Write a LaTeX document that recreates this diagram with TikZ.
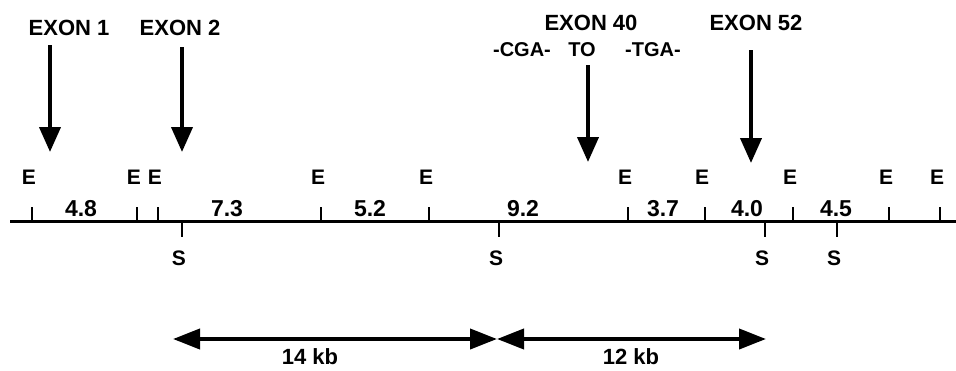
\documentclass[tikz,border=0pt]{standalone}
\usepackage{fontspec}
\setmainfont{Liberation Sans}
\usetikzlibrary{arrows.meta}
\begin{document}
\begin{tikzpicture}[x=1pt,y=-1pt,
  exonlbl/.style={font=\fontsize{22}{22}\selectfont\bfseries, inner sep=0pt},
  seqlbl/.style={font=\fontsize{20}{20}\selectfont\bfseries, inner sep=0pt},
  sitelbl/.style={font=\fontsize{21}{21}\selectfont\bfseries, inner sep=0pt},
  sizelbl/.style={font=\fontsize{23}{23}\selectfont\bfseries, inner sep=0pt},
  kblbl/.style={font=\fontsize{22}{22}\selectfont\bfseries, inner sep=0pt},
  exarrow/.style={line width=4pt, -{Triangle[width=21pt,length=25pt]}},
  spanarrow/.style={line width=4pt, {Triangle[width=20pt,length=27pt]}-{Triangle[width=20pt,length=27pt]}},
  tick/.style={line width=1.8pt},
]
\useasboundingbox (0,0) rectangle (956,370);

% restriction map baseline
\coordinate (mapL) at (10,221);
\coordinate (mapR) at (956,221);
\draw[line width=3pt] (mapL) -- (mapR);

% EcoRI sites (ticks above the line)
\foreach \x [count=\i] in {32,137,158,321,429,628,705,793,889,940}{
  \coordinate (e\i) at (\x,221);
  \draw[tick] (e\i) -- ++(0,-14);
  \node[sitelbl] (E\i) at (\x-3,177) {E};
}

% SalI sites (ticks below the line)
\foreach \x [count=\i] in {182,499,765,837}{
  \coordinate (s\i) at (\x,221);
  \draw[tick] (s\i) -- ++(0,16);
  \node[sitelbl] (S\i) at (\x-3,258) {S};
}

% fragment sizes (kb)
\node[sizelbl] (f1) at (81,209) {4.8};
\node[sizelbl] (f2) at (227,209) {7.3};
\node[sizelbl] (f3) at (370,209) {5.2};
\node[sizelbl] (f4) at (523,209) {9.2};
\node[sizelbl] (f5) at (663,209) {3.7};
\node[sizelbl] (f6) at (747,209) {4.0};
\node[sizelbl] (f7) at (836,209) {4.5};

% exon labels and arrows
\node[exonlbl] (x1) at (69,27.5) {EXON 1};
\node[exonlbl] (x2) at (180,27.5) {EXON 2};
\node[exonlbl] (x40) at (591,22.5) {EXON 40};
\node[exonlbl] (x52) at (756,23) {EXON 52};
\node[seqlbl] (cga) at (522,50) {-CGA-};
\node[seqlbl] (to) at (582,50) {TO};
\node[seqlbl] (tga) at (653,50) {-TGA-};

\coordinate (a1s) at (50,45);   \coordinate (a1e) at (50,152);
\coordinate (a2s) at (182,47);  \coordinate (a2e) at (182,152);
\coordinate (a40s) at (588,65); \coordinate (a40e) at (588,162);
\coordinate (a52s) at (751,50); \coordinate (a52e) at (751,163);
\draw[exarrow] (a1s) -- (a1e);
\draw[exarrow] (a2s) -- (a2e);
\draw[exarrow] (a40s) -- (a40e);
\draw[exarrow] (a52s) -- (a52e);

% span arrows
\coordinate (spL) at (173,339);
\coordinate (spM) at (497,339);
\coordinate (spR) at (766,339);
\draw[spanarrow] (spL) -- (spM);
\draw[spanarrow] (spM) -- (spR);
\node[kblbl] (k14) at (310,357) {14 kb};
\node[kblbl] (k12) at (631,357) {12 kb};
\end{tikzpicture}
\end{document}
